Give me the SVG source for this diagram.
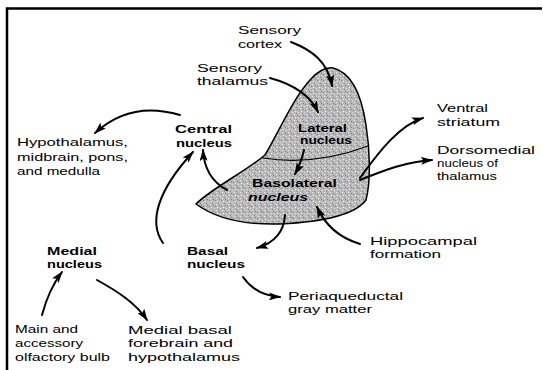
<svg xmlns="http://www.w3.org/2000/svg" width="543" height="370" viewBox="0 0 543 370">
<style>
  .t { font-family: "Liberation Sans", Arial, sans-serif; font-size: 11.5px; fill: #000; }
  .b { font-family: "Liberation Sans", Arial, sans-serif; font-size: 11.5px; font-weight: bold; fill: #000; }
  .bi { font-family: "Liberation Sans", Arial, sans-serif; font-size: 11.5px; font-weight: bold; font-style: italic; fill: #000; }
  .c { fill: none; stroke: #000; stroke-width: 2; stroke-linecap: round; marker-end: url(#ah); }
  .frame { fill: none; stroke: #000; stroke-width: 2.5; }
</style>
<defs>
  <marker id="ah" markerUnits="userSpaceOnUse" markerWidth="12" markerHeight="8" refX="11" refY="4" orient="auto">
    <path d="M0,0 L12,4 L0,8 L2.5,4 z" fill="#000"/>
  </marker>
  <pattern id="stip" width="6" height="6" patternUnits="userSpaceOnUse">
    <rect width="6" height="6" fill="#b9b9b9"/>
    <rect x="0" y="0" width="1" height="1" fill="#eeeeee"/>
    <rect x="3" y="1" width="1" height="1" fill="#7a7a7a"/>
    <rect x="1" y="3" width="1" height="1" fill="#f2f2f2"/>
    <rect x="4" y="4" width="1" height="1" fill="#e6e6e6"/>
    <rect x="5" y="2" width="1" height="1" fill="#888888"/>
    <rect x="2" y="5" width="1" height="1" fill="#8a8a8a"/>
  </pattern>
</defs>
<rect width="543" height="370" fill="#fff"/>
<path class="frame" d="M7,370 L7,8.5 L542,8.5"/>

<g id="amygdala">
  <path d="M333,68 C350,72 361,92 366,125 C370,150 371,180 366,200 C355,215 320,222 280,224 C245,225 215,218 196,204 C212,188 245,172 265,155 C280,130 292,100 310,80 C318,71 325,67 333,68 Z" fill="url(#stip)" stroke="#000" stroke-width="1.5"/>
  <path d="M263,158 Q315,166 368,146" fill="none" stroke="#000" stroke-width="1.2"/>
</g>

<g id="connectors">
  <path class="c" d="M291,42 C312,50 328,62 332,86"/>
  <path class="c" d="M270,78 C292,84 310,95 318,112"/>
  <path class="c" d="M180,115 C150,106 120,110 95,133"/>
  <path class="c" d="M163,243 C148,222 158,190 193,152"/>
  <path class="c" d="M227,190 C212,182 204,168 203,150"/>
  <path class="c" d="M304,150 Q301,163 295,174"/>
  <path class="c" d="M285,215 C284,232 274,243 257,248"/>
  <path class="c" d="M360,244 C340,238 325,225 317,207"/>
  <path class="c" d="M360,178 C380,150 400,125 423,118"/>
  <path class="c" d="M360,180 C385,170 405,162 432,160"/>
  <path class="c" d="M243,277 C250,287 262,296 280,297"/>
  <path class="c" d="M42,315 C46,300 52,285 62,272"/>
  <path class="c" d="M97,280 C115,290 135,302 147,320"/>
</g>

<g id="sensory-cortex">
  <text class="t" x="238" y="34" textLength="63" lengthAdjust="spacingAndGlyphs">Sensory</text>
  <text class="t" x="238" y="48" textLength="44" lengthAdjust="spacingAndGlyphs">cortex</text>
</g>
<g id="sensory-thalamus">
  <text class="t" x="197" y="72" textLength="65" lengthAdjust="spacingAndGlyphs">Sensory</text>
  <text class="t" x="197" y="85" textLength="71" lengthAdjust="spacingAndGlyphs">thalamus</text>
</g>
<g id="lateral-nucleus">
  <text class="b" x="298" y="132" textLength="49" lengthAdjust="spacingAndGlyphs">Lateral</text>
  <text class="b" x="300" y="144" textLength="52" lengthAdjust="spacingAndGlyphs">nucleus</text>
</g>
<g id="basolateral-nucleus">
  <text class="b" x="252" y="187" textLength="85" lengthAdjust="spacingAndGlyphs">Basolateral</text>
  <text class="bi" x="248" y="201" textLength="60" lengthAdjust="spacingAndGlyphs">nucleus</text>
</g>
<g id="central-nucleus">
  <text class="b" x="175" y="133" textLength="57" lengthAdjust="spacingAndGlyphs">Central</text>
  <text class="b" x="176" y="147" textLength="56" lengthAdjust="spacingAndGlyphs">nucleus</text>
</g>
<g id="hypothalamus">
  <text class="t" x="17" y="146" textLength="111" lengthAdjust="spacingAndGlyphs">Hypothalamus,</text>
  <text class="t" x="17" y="161" textLength="111" lengthAdjust="spacingAndGlyphs">midbrain, pons,</text>
  <text class="t" x="17" y="175" textLength="83" lengthAdjust="spacingAndGlyphs">and medulla</text>
</g>
<g id="ventral-striatum">
  <text class="t" x="437" y="112" textLength="51" lengthAdjust="spacingAndGlyphs">Ventral</text>
  <text class="t" x="437" y="126" textLength="63" lengthAdjust="spacingAndGlyphs">striatum</text>
</g>
<g id="dorsomedial">
  <text class="t" x="437" y="154" textLength="98" lengthAdjust="spacingAndGlyphs">Dorsomedial</text>
  <text class="t" x="437" y="167" textLength="61" lengthAdjust="spacingAndGlyphs">nucleus of</text>
  <text class="t" x="437" y="180" textLength="60" lengthAdjust="spacingAndGlyphs">thalamus</text>
</g>
<g id="hippocampal">
  <text class="t" x="370" y="245" textLength="107" lengthAdjust="spacingAndGlyphs">Hippocampal</text>
  <text class="t" x="370" y="258" textLength="71" lengthAdjust="spacingAndGlyphs">formation</text>
</g>
<g id="basal-nucleus">
  <text class="b" x="187" y="255" textLength="41" lengthAdjust="spacingAndGlyphs">Basal</text>
  <text class="b" x="187" y="268" textLength="58" lengthAdjust="spacingAndGlyphs">nucleus</text>
</g>
<g id="medial-nucleus">
  <text class="b" x="47" y="255" textLength="50" lengthAdjust="spacingAndGlyphs">Medial</text>
  <text class="b" x="47" y="268" textLength="55" lengthAdjust="spacingAndGlyphs">nucleus</text>
</g>
<g id="periaqueductal">
  <text class="t" x="288" y="300" textLength="115" lengthAdjust="spacingAndGlyphs">Periaqueductal</text>
  <text class="t" x="288" y="313" textLength="84" lengthAdjust="spacingAndGlyphs">gray matter</text>
</g>
<g id="olfactory">
  <text class="t" x="15" y="333" textLength="63" lengthAdjust="spacingAndGlyphs">Main and</text>
  <text class="t" x="15" y="347" textLength="68" lengthAdjust="spacingAndGlyphs">accessory</text>
  <text class="t" x="15" y="361" textLength="95" lengthAdjust="spacingAndGlyphs">olfactory bulb</text>
</g>
<g id="medial-basal">
  <text class="t" x="128" y="334" textLength="104" lengthAdjust="spacingAndGlyphs">Medial basal</text>
  <text class="t" x="128" y="347" textLength="105" lengthAdjust="spacingAndGlyphs">forebrain and</text>
  <text class="t" x="128" y="361" textLength="112" lengthAdjust="spacingAndGlyphs">hypothalamus</text>
</g>
</svg>
